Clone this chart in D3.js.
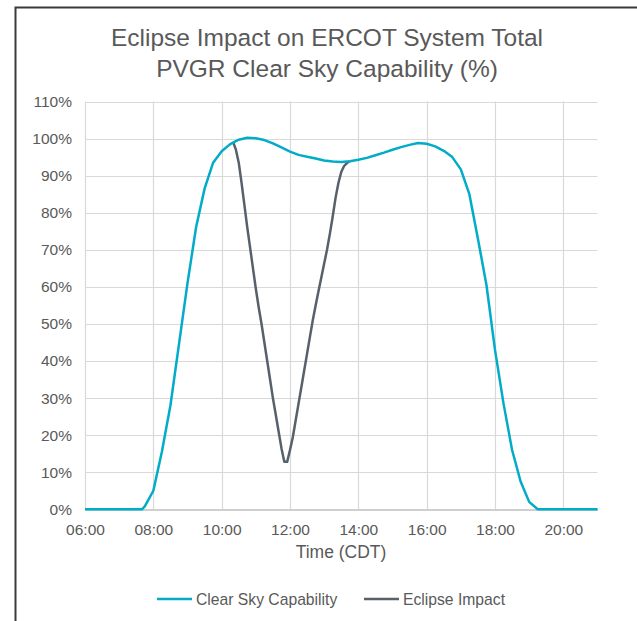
<!DOCTYPE html>
<html>
<head>
<meta charset="utf-8">
<script src="https://cdn.jsdelivr.net/npm/d3@7"></script>
<style>
  body { margin: 0; background: #ffffff; }
  svg text { font-family: "Liberation Sans", Arial, sans-serif; fill: #595959; }
</style>
</head>
<body>
<div id="chart"></div>
<script>
// chart values
const clearTimes = ['06:00', '07:30', '07:40', '07:45', '08:00', '08:15', '08:30', '08:45', '09:00', '09:15', '09:30', '09:45',
  '10:00', '10:15', '10:30', '10:45', '11:00', '11:15', '11:30', '11:45', '12:00', '12:15', '12:30', '12:45',
  '13:00', '13:15', '13:30', '13:45', '14:00', '14:15', '14:30', '14:45', '15:00', '15:15', '15:30', '15:45',
  '16:00', '16:15', '16:30', '16:45', '17:00', '17:15', '17:30', '17:45', '18:00', '18:15', '18:30', '18:45',
  '19:00', '19:15', '21:00'];
const clearSky = [0, 0, 0, 0.8, 5, 15.5, 28, 44.5, 61, 76, 86.5, 93.5,
  96.6, 98.5, 99.7, 100.2, 100.1, 99.6, 98.7, 97.6, 96.5, 95.6, 95.1, 94.6,
  94.1, 93.8, 93.7, 93.9, 94.3, 94.8, 95.5, 96.2, 97.0, 97.7, 98.3, 98.8,
  98.6, 97.9, 96.7, 95.0, 91.7, 85, 73, 60.5, 43, 28.5, 16, 7.5,
  2, 0, 0];

const eclipseTimes = ['10:20', '10:25', '10:30', '10:35', '10:40', '10:45', '10:50', '10:55', '11:00', '11:05', '11:10', '11:15',
  '11:20', '11:25', '11:30', '11:35', '11:40', '11:45', '11:50', '11:55', '12:00', '12:05', '12:10', '12:15',
  '12:20', '12:25', '12:30', '12:35', '12:40', '12:45', '12:50', '12:55', '13:00', '13:05', '13:10', '13:15',
  '13:20', '13:25', '13:30', '13:35', '13:40', '13:45'];
const eclipseImpact = [99.1, 97, 93.5, 88, 82, 76, 70.5, 65, 59.5, 54.5, 50, 45,
  40, 35, 30, 25.5, 21, 16.5, 12.8, 12.8, 16, 19.5, 24, 28.5,
  33, 37.5, 42, 46.5, 51, 55, 58.8, 62.5, 66.3, 70, 74.3, 79,
  84, 88, 91, 92.6, 93.4, 93.9];

const xTicks = ['06:00', '08:00', '10:00', '12:00', '14:00', '16:00', '18:00', '20:00'];
const yTicks = [0, 10, 20, 30, 40, 50, 60, 70, 80, 90, 100, 110];

const titleLines = ['Eclipse Impact on ERCOT System Total', 'PVGR Clear Sky Capability (%)'];
const seriesNames = ['Clear Sky Capability', 'Eclipse Impact'];
const seriesColors = ['#00acc8', '#56616b'];

const width = 637;
const height = 621;
const margin = { top: 101.5, right: 39.5, bottom: 111.5, left: 85 };

const parseTime = d3.timeParse('%H:%M');

const svg = d3.select('#chart').append('svg')
  .attr('width', width)
  .attr('height', height);

// outer frame
svg.append('rect')
  .attr('x', 15.5)
  .attr('y', 7.5)
  .attr('width', 630)
  .attr('height', 630)
  .attr('fill', 'none')
  .attr('stroke', '#3b3b3b')
  .attr('stroke-width', 2);

const x = d3.scaleTime()
  .domain([parseTime('06:00'), parseTime('21:00')])
  .range([margin.left, width - margin.right]);

const y = d3.scaleLinear()
  .domain([0, 110])
  .range([height - margin.bottom - 0.2, margin.top]);

// gridlines
svg.append('g')
  .selectAll('line')
  .data(yTicks.slice(1))
  .enter().append('line')
  .attr('x1', x.range()[0])
  .attr('x2', x.range()[1])
  .attr('y1', d => Math.round(y(d)) + 0.5)
  .attr('y2', d => Math.round(y(d)) + 0.5)
  .attr('stroke', '#d9d9d9')
  .attr('stroke-width', 1.2);

svg.append('g')
  .selectAll('line')
  .data(xTicks)
  .enter().append('line')
  .attr('x1', d => Math.round(x(parseTime(d))) + 0.5)
  .attr('x2', d => Math.round(x(parseTime(d))) + 0.5)
  .attr('y1', y(110))
  .attr('y2', y(0))
  .attr('stroke', '#d9d9d9')
  .attr('stroke-width', 1.2);

// x axis
const xAxis = svg.append('g')
  .attr('transform', `translate(0,${Math.round(y(0)) + 0.5})`)
  .call(d3.axisBottom(x)
    .tickValues(xTicks.map(parseTime))
    .tickFormat(d3.timeFormat('%H:%M'))
    .tickSize(0)
    .tickPadding(14));
xAxis.select('.domain').attr('stroke', '#bfbfbf').attr('stroke-width', 1.5);
xAxis.selectAll('.tick text')
  .style('font-size', '15.5px')
  .attr('fill', '#595959');

// y axis
const yAxis = svg.append('g')
  .attr('transform', `translate(${margin.left},0)`)
  .call(d3.axisLeft(y)
    .tickValues(yTicks)
    .tickFormat(d => d + '%')
    .tickSize(0)
    .tickPadding(13));
yAxis.select('.domain').remove();
yAxis.selectAll('.tick text')
  .style('font-size', '15.5px')
  .attr('fill', '#595959');

const line = d3.line()
  .x(d => x(parseTime(d.t)))
  .y(d => y(d.v));

const clearData = clearTimes.map((t, i) => ({ t: t, v: clearSky[i] }));
const eclipseData = eclipseTimes.map((t, i) => ({ t: t, v: eclipseImpact[i] }));

svg.append('path')
  .datum(eclipseData)
  .attr('fill', 'none')
  .attr('stroke', seriesColors[1])
  .attr('stroke-width', 2.5)
  .attr('stroke-linejoin', 'round')
  .attr('d', line);

svg.append('path')
  .datum(clearData)
  .attr('fill', 'none')
  .attr('stroke', seriesColors[0])
  .attr('stroke-width', 2.5)
  .attr('stroke-linejoin', 'round')
  .attr('d', line);

// title
svg.append('g')
  .selectAll('text')
  .data(titleLines)
  .enter().append('text')
  .attr('x', 327)
  .attr('y', (d, i) => 46 + i * 31)
  .attr('text-anchor', 'middle')
  .style('font-size', '24.5px')
  .text(d => d);

// x axis title
svg.append('text')
  .attr('x', 341)
  .attr('y', 558)
  .attr('text-anchor', 'middle')
  .style('font-size', '17.5px')
  .text('Time (CDT)');

// legend
const legendX = [157, 364];
const legend = svg.append('g')
  .selectAll('g')
  .data(seriesNames)
  .enter().append('g')
  .attr('transform', (d, i) => `translate(${legendX[i]},599)`);

legend.append('line')
  .attr('x1', 0)
  .attr('x2', 35)
  .attr('stroke', (d, i) => seriesColors[i])
  .attr('stroke-width', 2.5);

legend.append('text')
  .attr('x', 39)
  .attr('y', 5.5)
  .style('font-size', '15.7px')
  .text(d => d);
</script>
</body>
</html>
